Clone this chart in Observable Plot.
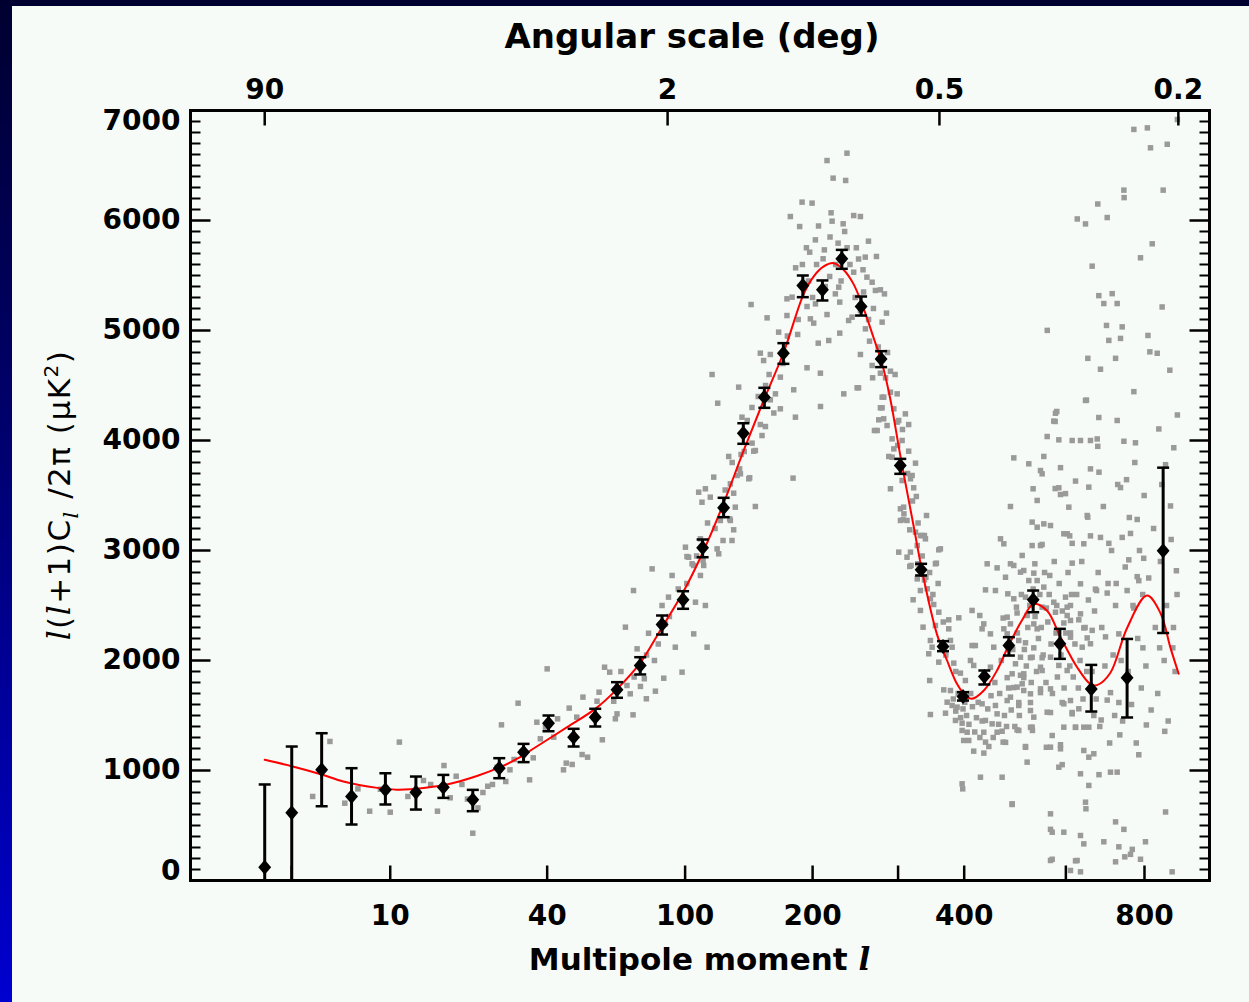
<!DOCTYPE html>
<html><head><meta charset="utf-8">
<script src="https://cdn.jsdelivr.net/npm/d3@7"></script>
<script src="https://cdn.jsdelivr.net/npm/@observablehq/plot@0.6"></script>
<style>
html,body{margin:0;padding:0;}
body{width:1249px;height:1002px;overflow:hidden;position:relative;
  background:linear-gradient(to bottom,#000030 0%,#000070 45%,#0000d0 100%);font-family:"DejaVu Sans";}
#panel{position:absolute;left:12px;top:6px;width:1237px;height:996px;background:#f7fbf7;}
#chart{position:absolute;left:0;top:0;}
</style></head>
<body><div id="panel"></div><div id="chart"></div>
<script>
// ---------- data ----------
// binned band powers (multipole, value, lower error end, upper error end)
const binL  = [2,3,4.5,6.5,9.5,13,16.9,22,27.5,33.4,40.4,48.5,56.4,65.3,75.9,87,98.8,110.8,124.9,139.3,156,172.4,190.4,210,230.8,253,277.7,303,332.4,365.6,398,435,480.5,529,586.5,660,752,854];
const binV  = [121,615,1006,764,824,803,848,733,1021,1166,1430,1303,1485,1733,1955,2327,2552,3024,3388,4066,4394,4794,5409,5370,5652,5218,4742,3773,2824,2127,1673,1855,2136,2552,2152,1742,1843,2997];
const binLo = [-630,-20,675,509,691,645,751,630,930,1076,1357,1218,1400,1661,1873,2236,2470,2939,3303,3970,4297,4697,5303,5273,5561,5136,4667,3697,2773,2085,1636,1782,2045,2439,2015,1536,1482,2250];
const binHi = [873,1218,1339,1021,975,945,960,824,1112,1242,1500,1379,1561,1803,2030,2409,2630,3100,3479,4157,4479,4885,5500,5455,5733,5309,4812,3833,2879,2176,1712,1909,2212,2636,2288,1960,2196,3753];

// best-fit model curve
const modelL = [2,3,4.5,5.9,8.7,10.7,14,18,22.8,27.7,32.5,36.1,46.3,56.4,65.3,76,86,98.8,111.5,124.9,139.6,155.4,172.6,191.2,201,211,222,233,244,254,268,279,290,303,322,334,356,372,388,402,413,434,458,480,506,530,558,588,626,658,674,708,752,807,846,876,901];
const modelV = [1097,1039,964,900,842,826,840,880,950,1030,1121,1200,1394,1560,1740,1980,2273,2620,3000,3430,3910,4364,4800,5330,5490,5580,5612,5550,5424,5242,4939,4697,4364,3864,3209,2809,2242,2000,1788,1682,1652,1727,1909,2136,2364,2515,2455,2212,1939,1785,1776,1889,2296,2590,2432,2115,1880];

// individual multipole values (grey)
const grayPts = [
[2,121],[3,615],[4,764],[5,1264],[6,703],[7,833],[8,630],[9,830],[10,621],[11,1258],[12,764],[13,810],[14,909],[15,873],[16,630],[17,1045],[18,752],[19,948],[20,873],[21,740],[22,430],[23,660],[24,800],[25,857],[26,873],[27,1030],[28,1415],[29,900],[30,1006],[31,1100],[32,1612],[33,1170],
[35,915],[40,1924],[36,1115],[37,1439],[38,1288],[39.5,1394],[42,1303],[43.2,1470],[45.1,1006],[46,1067],[48,1055],[47,1567],[49.6,1485],[51.5,1145],[53.5,1121],[51.8,1667],[57.1,1630],[59.2,1279],[57.9,1712],[60.1,1939],[62.2,1894],[63.9,1630],[64.6,1470],[65.3,1515],[69.7,1773],[71.2,1697],[72.5,1506],[76,1764],[78.9,1652],[77.9,1834],[83.5,1721],[87.9,1839],[83,2000],[98.2,1894],[74.4,2106],[80,2248],[69,2303],[72.7,2636],[81.8,2833],[92.5,2773],[90.5,2576],[87,2500],[88.8,2333],[94.3,2121],[105.2,2242],[113.7,2121],[106.3,2530],[112.6,2500],[109.4,2773],[100.2,3030],[102.1,2939],[105.2,2864],[111.5,2864],[109.4,3106],[121.5,2970],[124.5,3091],[130.9,3091],[132.1,3188],[120.4,3015],[108.3,3530],[110.4,3439],[115.8,3485],[118.1,3667],[129.7,3606],[133.3,3394],[129.7,3273],[122.6,3273],[148.7,3400],[144.2,3661],[128.5,3855],[137.6,3873],[147.4,3903],[181.2,3658],[134.6,3682],
[236.6,6612],[214.8,6545],[221.3,6385],[235.1,6364],[189.7,6167],[199.5,6158],[178.7,6036],[187.4,5945],[219.1,6070],[220.2,5994],[232.3,5970],[244.3,6045],[252.2,6036],[202.8,5824],[193.9,5752],[197.1,5712],[212,5733],[210.7,5652],[226.7,5794],[236.7,5752],[247.4,5752],[261.9,5812],[258,5667],[271.8,5673],[183.6,5570],[217.6,5491],[244.3,5530],[255.3,5552],[260,5485],[266.4,5439],[270.5,5364],[276.8,5370],[282,5333],[227.4,5394],[223.7,5333],[228.5,5258],[202.9,5242],[194.5,5218],[180.3,5303],[175.6,5288],[145.3,5236],[197.8,5106],[201.1,5067],[214.8,5145],[238.5,5091],[242.4,5121],[252.2,5182],[258.2,5015],[279,5076],[284.6,5158],[228.5,4976],[216.6,4909],[205.7,4885],[185.5,4964],[168.2,4985],[158.3,5115],[175.6,5136],[263.2,4903],[252.2,4782],[266.4,4682],[276.8,4612],[289.8,4630],[152.7,4794],[161,4782],[155.4,4727],[169.7,4576],[194.5,4661],[207.9,4612],[267,4570],[283.4,4570],[117,4600],[135.8,4485],[181.8,4461],[233,4424],[250,4479],[208,4309],[183.4,4212],[165.4,4424],[161,4370],[169.7,4288],[120.8,4339],[279,4394],[289.8,4439],[294.3,4288],[298.8,4424],[276.8,4297],[281,4197],[285.4,4136],[300.9,4182],[310,4242],[314.6,4145],[272.7,4091],[142.3,4182],[138.3,4212],[152.7,4145],[156.9,4127],[154.1,4045],[146.1,3976],[148.7,3909],[292,4015],[294.3,3924],[305.5,4000],[314.6,3903],[292,3848],[324.3,3794],[136.5,3742],[137.1,3697],[143.5,3652],[112.6,3561],[132.1,3521],[129.2,3288],[111.1,2909],[101.1,2945],[104.2,2879],[289.8,3561],[305.5,3636],[317.1,3652],[321.7,3570],[325.5,3491],[303.2,3379],[306.8,3279],[312.3,3273],[340.4,3318],[316.1,3188],[333.9,3136],[338.8,3106],[300.9,2985],[317.1,2985],[312.3,2939],[318,2864],[327.6,2879],[353.8,2879],[359,3006],[339.5,2757],
[248.3,4479],[281.1,4394],[279,4297],[274.7,4188],[298.8,4167],[269.3,4091],[299.5,3955],[287.6,3855],[319.5,3682],[307.6,3394],[308,3333],[303.2,3273],[324.3,3167],[331.4,3136],[337.3,3136],[326.8,3045],[361.5,3015],[355.3,2885],[316.1,2855],[326.8,2742],[337.3,2733],[320.9,2552],[341.4,2652],[331.4,2636],[346.2,2561],[331.4,2455],[351.2,2509],[359,2439],[335.3,2303],[353.8,2318],[374.7,2370],[374.7,2288],[391,2388],[346.2,2182],[348.8,2121],[343.7,2061],[377.4,2182],[380.1,2121],[359,1985],[382.8,1976],[345.1,1818],[346.2,1509],[366.7,1733],[377.4,1727],[372.1,1621],[380.1,1591],[369.5,1521],[388.2,1576],[385.5,1455],[396.5,1430],[393.7,1885],[402,1818],[396.5,1364],[405,1348],[399.1,1273],[407.7,1273],[416.2,1176],[396.5,879],[397.5,833],[413.4,2136],[419,2136],[410.6,2000],[416.2,1955],[430.9,2288],[433.9,2333],[426.8,2409],[413.4,2455],[433.9,1879],[445.9,1939],[445.9,2242],[452,2121],[455.1,1591],[458.2,1515],[430.9,1606],[436.9,1455],[449,1424],[433.9,1348],[458.2,1348],[467.6,1357],[437,1258],[443,1218],[434,1158],[469.5,1258],[428,939],[467.6,939],[486.8,697],[437,2642],[455.1,2636],[440,2879],[458.2,2842],[464.5,3106],[470.8,3061],[483.5,2879],[490,2864],[474,2757],[478.4,2606],[490,2561],[495.2,2485],[477.2,2394],[483.5,2333],[470.8,2288],[477.2,2242],[499.8,2182],[503.2,2030],[493.3,1970],[486.8,1879],[509.8,1879],[496.5,1758],[506.6,1788],[477.2,1636],[483.5,1667],[499.8,1591],[499.8,1364],[513.3,1218],[516.6,1076],[526.9,1394],[527.5,1364],[523.4,1545],[523.4,1697],[509.8,1727],[530.3,1485],[544.3,1939],[526.9,2030],[544.3,1742],[530.3,2333],[537.3,2288],[547.8,2485],[513.3,2576],[503.2,2803],[509.8,2818],[530.3,2794],[537.3,2727],[520,2727],[564.2,2773],[532.5,2879],[544.3,3045],[547.8,3055],[551.4,2667],[506.6,2955],[526.9,3045],[537.3,3212],[551.4,3242],[565.8,3227],[526.9,3258],[528.9,3561],[537.3,3455],[544.3,3727],[547.8,3697],[520,3788],[490,3842],[483.5,3400],[551.4,3855],[558.6,4036],[576.7,4248],[573,4176],[584.2,4006],[584.2,3570],[587.9,3509],[606.8,3394],[595.4,3152],[614.5,2885],[634,2697],[599.2,2576],[603,2485],[573,2530],[576.7,2439],[610.6,2364],[630,2370],[634,2424],[610.6,2212],[638.1,2121],[658,2152],[565.8,2030],[584.2,1955],[547.8,1909],[603,1909],[565.8,1742],[595.4,1606],[610.6,1636],[614.5,1515],[630,1561],[558.6,1530],[569.5,1318],[565.8,1212],[587.9,1197],[584.2,1030],[595.4,1394],[622.3,1394],[641.9,1394],[654,1394],[641.9,1182],[666.2,1152],[634,970],[654,864],[646,712],[647,652],[565.8,606],[569.5,439],[595.4,439],[634,409],[641.9,333],[565.8,182],[626,182],[610.6,91],[641.9,3061],[650,3318],[654,3576],[658,3742],[658,4000],[634,4000],[614.5,4000],[646,4364],[603,3152],[651.4,3303],[679,3712],[673,2636],[666.2,1500],[654,1121],
[897,6918],[770.4,6828],[808.2,6842],[817.1,6661],[866.2,6693],[743.4,6276],[744,6208],[854.1,6276],[676,6150],[699.8,6027],[626.4,6014],[646,5969],[822.1,5788],[788.8,5661],[662.2,5585],[678.6,5317],[712.6,5335],[691.2,5245],[725.6,5245],[851,5214],[558.8,5001],[698,5046],[738.9,5033],[703.9,4910],[734.4,4928],[809.8,4955],[815.2,4806],[836.5,4793],[651.6,4747],[721.4,4747],[682.8,4648],[874,4639],[770.4,4444],[648.3,4367],[579.6,4264],[576.1,4173],[678.6,4209],[725.6,4182],[841.2,4105],[897,4232],[674.6,4014],[676,3947],[743.4,3993],[774.8,3979],[886,3934],[587.9,3753],[622.3,3631],[576.1,3563],[599.2,3517],[734.4,3572],[750.5,3644],[861.2,3780],[876,3405],[779.6,3282],[608.8,3133],[658,3133],[682.8,3119],[738.9,3119],[761.2,3155],[614.5,3065],[703.9,3065],[756.6,2915],[797.8,2929],[894,2816],[779.6,2762],[784,2726],[752.1,2636],[699.8,2613],[670.2,2649],[610.6,2500],[579.6,2500],[556.9,2477],[721.4,2500],[770.4,2477],[469.5,2386],[496.5,2432],[516.6,2409],[603,2409],[595.4,2341],[641.9,2296],[610.6,2251],[650,2205],[662.2,2274],[695.5,2215],[730,2242],[795.5,2115],[843.7,2115],[883,2115],[513.3,2161],[523.4,2025],[530.3,2115],[547.8,2025],[503.2,1866],[509.8,1844],[477.2,1844],[490,1754],[499.8,1618],[523.4,1618],[544.3,1708],[591.7,1618],[614.5,1527],[565.8,1527],[622.3,1392],[699.8,1640],[708.2,1708],[730,1618],[684.5,1459],[732.5,1324],[784,1143],[805.3,1414],[858.8,1356],[496.5,1369],[523.4,1392],[474.1,1256],[513.3,1211],[556.9,1211],[587.9,1234],[486.8,691],[591.7,1053],[679,962],[708.2,985],[725.6,985],[565.8,465],[691.2,352],[721.4,533],[730,306],[743.4,465],[761.2,238],[766,283],[802.8,352],[861.2,623],[569.5,193],[622.3,179],[634,79],[721.4,170],[788.8,193],[881,79],[745.8,215],
[382,1650],[386,1540],[390,1700],[394,1480],[398,1560],[401,1620],[404,1500],[408,1420],[411,1700],[414,1580],[418,1350],[421,1480],[424,1620],[427,1300],[431,1450],[441,1560],[447,1680],[451,1300],[454,1800],[461,1420],[463,1700],[466,2000],[472,1500],[476,1400],[480,1750],[485,1550],[488,2100],[492,1400],[497,2250],[501,1500],
[505,2600],[511,2100],[515,1950],[518,2300],[522,2500],[525,1800],[529,2650],[533,2400],[536,1900],[540,2200],[543,2600],[546,2300],[550,2050],[553,2800],[556,1800],[560,2350],[563,2600],[567,2150],[570,1700],[574,2900],[578,2250],[581,1850],[585,2700],[589,2050],[592,2450],[596,1750],[600,2250],[605,2800],[609,1950],[613,2600],[617,1850],[621,2150],[625,2600],[629,1750],[633,2000],[637,2900],[640,1650],[645,2300],[649,1900],[653,2550],
[662,1900],[668,2450],[672,1650],[677,2800],[681,1400],[686,2300],[690,3400],[694,1950],[702,2700],[706,1250],[711,3000],[715,2050],[719,1500],[723,2700],[727,3600],[736,2000],[740,1450],[747,2850],[755,1900],[758,3300],[764,1600],[768,2500],[773,3800],[777,1250],[781,2200],[786,3000],[791,1750],[795,2600],[799,3500],[804,1950],[812,2750],[819,1550],[826,3200],[831,2300],[838,1700],[846,2900],[850,3600],[857,2000],[864,2500],[869,1450],[878,3100],[885,2300],[890,1900],[896,2600],
[160,4600],[164,4250],[172,4700],[176,4950],[186,5100],[190,5600],[196,5450],[200,5300],[204,5600],[206,5950],[213,5400],[218,5850],[224,5600],[230,5450],[234,5900],[240,5600],[246,5300],[250,5650],[256,5350],[262,5100],[268,5200],[274,4850],[286,4800],[296,4600],[306,4100],[313,3700],[320,3450],[328,3250],[334,2950],[345,2800],[350,2600],[358,2700],[366,2350],[370,2050],[386,1900],
[67,1900],[73,1850],[79,2050],[85,2150],[91,2400],[96,2650],[101,2700],[107,2950],[114,3250],[119,3200],[126,3550],[131,3800],[140,3900],[146,4300],[151,4400],[157,4500]
];

// axes
const yMajor = [0,1000,2000,3000,4000,5000,6000,7000];
const yMinor = d3.range(0, 7001, 100);
const xTickL = [3,10,40,100,200,300,400,600,800];
const xLabelL = [10,40,100,200,400,800];
const angTickL = [2,90,360,900];          // multipole at each angular-scale tick
const angLabel = ["90","2","0.5","0.2"];  // degrees

// ---------- symbols ----------
const R = s => Math.sqrt(s / Math.PI);
const hline = {draw(c,s){const r=R(s); c.moveTo(-r,0); c.lineTo(r,0);}};
const tickRight = {draw(c,s){const r=R(s); c.moveTo(0,0); c.lineTo(r,0);}};
const tickLeft = {draw(c,s){const r=R(s); c.moveTo(0,0); c.lineTo(-r,0);}};
const tickUp = {draw(c,s){const r=R(s); c.moveTo(0,0); c.lineTo(0,-r);}};
const tickDown = {draw(c,s){const r=R(s); c.moveTo(0,0); c.lineTo(0,r);}};
const diamond = {draw(c,s){const r=R(s); c.moveTo(0,-r); c.lineTo(r*0.86,0); c.lineTo(0,r); c.lineTo(-r*0.86,0); c.closePath();}};

const bins = binL.map((l,i)=>({l, v:binV[i], lo:binLo[i], hi:binHi[i]}));
const model = modelL.map((l,i)=>({l, v:modelV[i]}));
const yMinorOnly = yMinor.filter(d => d % 1000 !== 0);

const W = 1249, H = 1002, mL = 190, mR = 40, mT = 110, mB = 122;
const tickStyle = {stroke:"black", fill:"none", strokeWidth:2.5};
const labFont = {fontSize:28, fontWeight:"bold", fill:"black"};

const svg = Plot.plot({
  width: W, height: H,
  marginLeft: mL, marginRight: mR, marginTop: mT, marginBottom: mB,
  style: {background:"transparent", fontFamily:"DejaVu Sans", color:"black", overflow:"visible"},
  x: {type:"pow", exponent:0.25, domain:[0.5, 1000]},
  y: {domain:[0, 7000]},
  marks: [
    Plot.dot(grayPts, {x: d=>d[0], y: d=>d[1], symbol:"square", r:3.1, fill:"#9a9a9a", clip:true}),
    Plot.line(model, {x:"l", y:"v", stroke:"#ff0000", strokeWidth:2, curve:"catmull-rom"}),
    Plot.ruleX(bins, {x:"l", y1:"lo", y2:"hi", stroke:"black", strokeWidth:3, clip:true}),
    Plot.dot(bins, {x:"l", y:"hi", symbol:hline, r:6, stroke:"black", fill:"none", strokeWidth:2.5, clip:true}),
    Plot.dot(bins, {x:"l", y:"lo", symbol:hline, r:6, stroke:"black", fill:"none", strokeWidth:2.5, clip:true}),
    Plot.dot(bins, {x:"l", y:"v", symbol:diamond, r:7.5, fill:"black", stroke:"none"}),
    // ticks (inward)
    Plot.dot(yMajor, {y:d=>d, frameAnchor:"left", symbol:tickRight, r:20, ...tickStyle}),
    Plot.dot(yMinorOnly, {y:d=>d, frameAnchor:"left", symbol:tickRight, r:10, ...tickStyle, strokeWidth:2}),
    Plot.dot(yMajor, {y:d=>d, frameAnchor:"right", symbol:tickLeft, r:20, ...tickStyle}),
    Plot.dot(yMinorOnly, {y:d=>d, frameAnchor:"right", symbol:tickLeft, r:10, ...tickStyle, strokeWidth:2}),
    Plot.dot(xTickL, {x:d=>d, frameAnchor:"bottom", symbol:tickUp, r:15, ...tickStyle}),
    Plot.dot(angTickL, {x:d=>d, frameAnchor:"top", symbol:tickDown, r:15, ...tickStyle}),
    Plot.frame({stroke:"black", strokeWidth:3}),
    // tick labels
    Plot.axisY({ticks: yMajor.slice(1, -1), tickSize:0, tickPadding:10, tickFormat:d=>String(d), label:null, ...labFont}),
    Plot.axisY({ticks: [7000], tickSize:0, tickPadding:10, tickFormat:d=>String(d), label:null, dy:11, ...labFont}),
    Plot.axisY({ticks: [0], tickSize:0, tickPadding:10, tickFormat:d=>String(d), label:null, dy:-9, ...labFont}),
    Plot.axisX({anchor:"bottom", ticks: xLabelL, tickSize:0, tickPadding:25, tickFormat:d=>String(d), label:null, ...labFont}),
    Plot.axisX({anchor:"top", ticks: angTickL, tickSize:0, tickPadding:12, tickFormat:d=>angLabel[angTickL.indexOf(d)], label:null, ...labFont}),
    Plot.text(["Angular scale (deg)"], {frameAnchor:"top", lineAnchor:"bottom", dy:-63, dx:-8, fontSize:34, fontWeight:"bold", fill:"black"})
  ]
});
document.getElementById("chart").appendChild(svg);

// axis titles with italic multipole symbol
const s = d3.select(svg);
const cx = mL + (W - mL - mR) / 2;
const bt = s.append("text").attr("x", cx).attr("y", H - mB + 90)
  .attr("text-anchor","middle").attr("font-family","DejaVu Sans").attr("font-size",31).attr("font-weight","bold").attr("fill","black");
bt.append("tspan").text("Multipole moment ");
bt.append("tspan").attr("font-family","DejaVu Serif").attr("font-style","italic").text("l");

const cy = mT + (H - mT - mB) / 2;
const yt = s.append("text").attr("transform", `translate(70,${cy}) rotate(-90)`)
  .attr("text-anchor","middle").attr("font-family","DejaVu Sans").attr("font-size",31).attr("fill","black").attr("letter-spacing",1.5);
yt.append("tspan").attr("font-family","DejaVu Serif").attr("font-style","italic").text("l");
yt.append("tspan").text("(");
yt.append("tspan").attr("font-family","DejaVu Serif").attr("font-style","italic").text("l");
yt.append("tspan").text("+1)C");
yt.append("tspan").attr("font-family","DejaVu Serif").attr("font-style","italic").attr("font-size",21).attr("dy",8).text("l");
yt.append("tspan").attr("dy",-8).text(" /2π (μK");
yt.append("tspan").attr("font-size",20).attr("dy",-12).text("2");
yt.append("tspan").attr("dy",12).text(")");
</script>
</body></html>
